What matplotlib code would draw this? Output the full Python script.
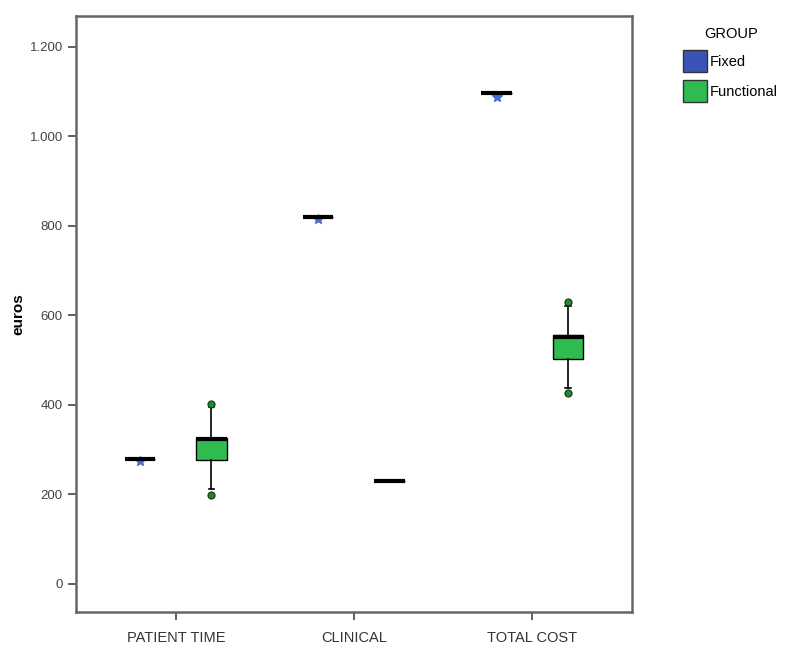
import numpy as np
import matplotlib
matplotlib.use('Agg')
import matplotlib.pyplot as plt
from matplotlib.patches import Patch

plt.rcParams['font.family'] = ['Liberation Sans', 'DejaVu Sans']

# data (euros)
categories = ['PATIENT TIME', 'CLINICAL', 'TOTAL COST']
groups = ['Fixed', 'Functional']
colors = {'Fixed': '#3953b8', 'Functional': '#2fbb4f'}

# Fixed: every value on one line, one extreme (*) just under it
fixed_med = [279, 819, 1096]
fixed_extreme = [275, 816, 1089]

# Functional: q1, median, q3, whisker low, whisker high, outliers
func_q1 = [277, 230, 503]
func_med = [323, 230, 551]
func_q3 = [326, 230, 555]
func_wlo = [212, 230, 438]
func_whi = [396, 230, 622]
func_out = [[199, 401], [], [427, 629]]

yticks = [0, 200, 400, 600, 800, 1000, 1200]
yticklabels = ['0', '200', '400', '600', '800', '1.000', '1.200']

fig = plt.figure(figsize=(7.93, 6.46), dpi=100)
ax = fig.add_axes([0.0958, 0.0526, 0.7012, 0.9226])

x = np.arange(len(categories))
offset = 0.2
width = 0.17

fixed_stats = []
for i in range(len(categories)):
    fixed_stats.append({'med': fixed_med[i], 'q1': fixed_med[i], 'q3': fixed_med[i],
                        'whislo': fixed_med[i], 'whishi': fixed_med[i],
                        'fliers': [fixed_extreme[i]]})
func_stats = []
for i in range(len(categories)):
    func_stats.append({'med': func_med[i], 'q1': func_q1[i], 'q3': func_q3[i],
                       'whislo': func_wlo[i], 'whishi': func_whi[i],
                       'fliers': func_out[i]})

ax.bxp(fixed_stats, positions=x - offset, widths=width, patch_artist=True,
       showcaps=False,
       boxprops=dict(facecolor=colors['Fixed'], edgecolor='black', linewidth=1),
       medianprops=dict(color='black', linewidth=3, solid_capstyle='butt'),
       whiskerprops=dict(color='black', linewidth=1.2),
       flierprops=dict(marker='*', markersize=7, markerfacecolor='#4a6ad8',
                       markeredgecolor='#4a6ad8', linestyle='none'))

ax.bxp(func_stats, positions=x + offset, widths=width, patch_artist=True,
       showcaps=True, capwidths=0.03,
       boxprops=dict(facecolor=colors['Functional'], edgecolor='black', linewidth=1),
       medianprops=dict(color='black', linewidth=3, solid_capstyle='butt'),
       whiskerprops=dict(color='black', linewidth=1.2),
       capprops=dict(color='black', linewidth=1.2),
       flierprops=dict(marker='o', markersize=5, markerfacecolor='#1f8a2e',
                       markeredgecolor='#1a3a1a', markeredgewidth=0.9, linestyle='none'))

ax.set_xlim(-0.56, 2.56)
ax.set_ylim(-63, 1269)
ax.set_xticks(x)
ax.set_xticklabels(categories, fontsize=10.5, color='#333333')
ax.set_yticks(yticks)
ax.set_yticklabels(yticklabels, fontsize=9.5, color='#444444')
ax.tick_params(axis='both', direction='out', length=6, width=1.2, color='#444444')
ax.tick_params(axis='x', pad=8)
ax.set_ylabel('euros', fontsize=11, fontweight='bold', labelpad=3)

for s in ax.spines.values():
    s.set_color('#666666')
    s.set_linewidth(1.8)

handles = [Patch(facecolor=colors[g], edgecolor='#333333', label=g) for g in groups]
leg = fig.legend(handles=handles, title='GROUP', loc='upper left',
                 bbox_to_anchor=(0.845, 0.978), frameon=False, fontsize=10.5,
                 title_fontsize=10.5, handlelength=1.6, handleheight=1.9,
                 handletextpad=0.25, labelspacing=0.6)

fig.savefig('out.png', dpi=100)
